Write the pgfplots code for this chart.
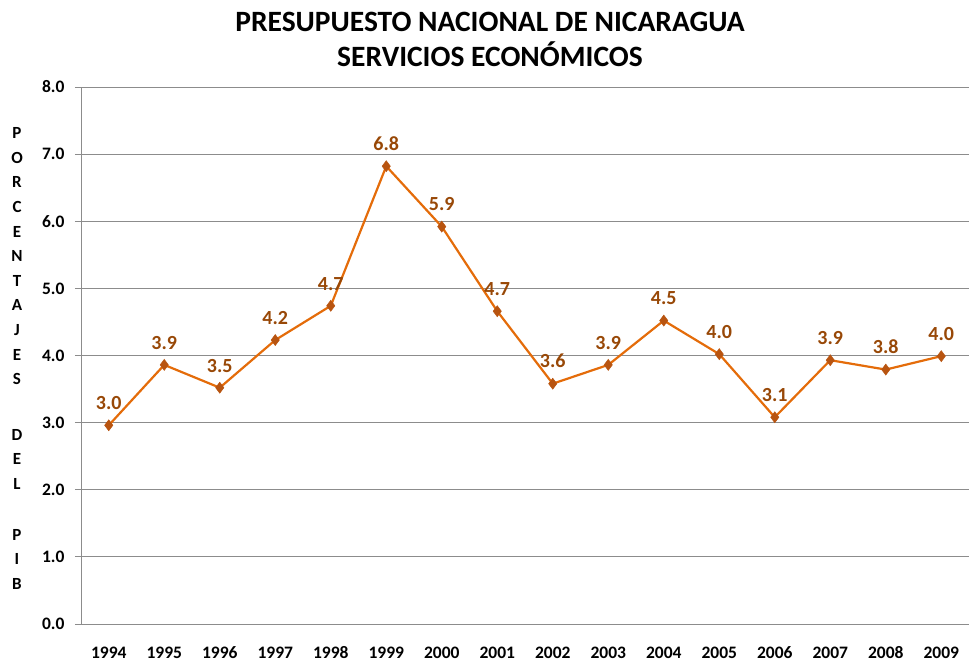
\documentclass[border=0pt]{standalone}
\usepackage{fontspec}
\setmainfont{Carlito}
\usepackage{pgfplots}
\pgfplotsset{compat=1.18}
\definecolor{lineor}{HTML}{E46C0A}
\definecolor{markor}{HTML}{B85410}
\definecolor{lblbrown}{HTML}{984807}
\definecolor{gridg}{HTML}{8C8C8C}
\begin{document}
\begin{tikzpicture}[x=1bp,y=1bp]
\useasboundingbox (0,0) rectangle (970,662);
\begin{axis}[
  at={(81bp,38bp)}, anchor=south west,
  scale only axis, width=888bp, height=537bp,
  xmin=-0.5, xmax=15.5, ymin=0, ymax=8,
  xtick={0,...,15},
  xticklabels={1994,1995,1996,1997,1998,1999,2000,2001,2002,2003,2004,2005,2006,2007,2008,2009},
  extra x ticks={-0.5,0.5,...,15.5}, extra x tick labels={},
  extra x tick style={major tick length=6bp, tick style={gridg, line width=0.8bp}, tick pos=bottom, xticklabel=\empty, grid=none},
  ytick={0,1,...,8},
  yticklabel={\pgfmathprintnumber[fixed,fixed zerofill,precision=1]{\tick}},
  /pgf/number format/assume math mode=true,
  ticklabel style={font=\fontsize{17.5bp}{19bp}\selectfont\bfseries},
  x tick label style={anchor=north, text height=11bp, text depth=0bp, yshift=-14bp},
  y tick label style={xshift=-7bp},
  major x tick style={draw=none},
  ytick style={gridg, line width=0.8bp},
  major tick length=6bp,
  tick align=outside, tick pos=left,
  ymajorgrids, grid style={gridg, line width=0.9bp},
  axis line style={gridg, line width=0.9bp},
  axis x line*=bottom, axis y line*=left,
  clip=false,
  nodes near coords,
  nodes near coords style={font=\fontsize{20bp}{22bp}\selectfont\bfseries, text=lblbrown, anchor=south, yshift=12bp},
  point meta=explicit symbolic,
]
\addplot[lineor, line width=2.2bp, mark=diamond*, mark size=5.5bp, mark options={fill=markor, draw=markor, line width=0.5bp}]
coordinates {
(0,2.96) [3.0]
(1,3.86) [3.9]
(2,3.52) [3.5]
(3,4.23) [4.2]
(4,4.74) [4.7]
(5,6.82) [6.8]
(6,5.92) [5.9]
(7,4.66) [4.7]
(8,3.58) [3.6]
(9,3.86) [3.9]
(10,4.52) [4.5]
(11,4.02) [4.0]
(12,3.08) [3.1]
(13,3.93) [3.9]
(14,3.79) [3.8]
(15,3.99) [4.0]
};
\end{axis}
\node[align=center, font=\fontsize{29.5bp}{35bp}\selectfont\bfseries] at (490,622.5) {PRESUPUESTO NACIONAL DE NICARAGUA\\SERVICIOS ECONÓMICOS};
\node[align=center, font=\fontsize{17bp}{24.6bp}\selectfont\bfseries] at (17,303.5) {P\\O\\R\\C\\E\\N\\T\\A\\J\\E\\S\\[31bp]D\\E\\L\\[26bp]P\\I\\B};
\end{tikzpicture}
\end{document}
